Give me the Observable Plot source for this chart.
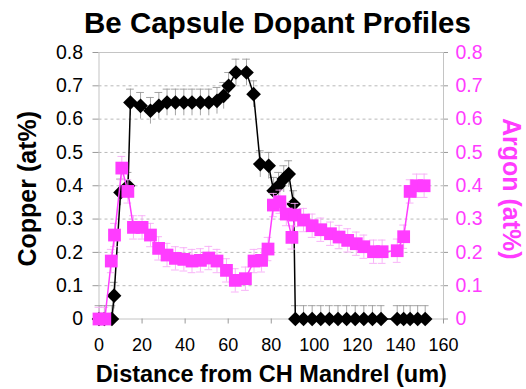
<!DOCTYPE html>
<html>
<head>
<meta charset="utf-8">
<script src="https://cdn.jsdelivr.net/npm/d3@7"></script>
<script src="https://cdn.jsdelivr.net/npm/@observablehq/plot@0.6"></script>
<style>
  body { margin: 0; background: #fff; font-family: Arial, "Liberation Sans", sans-serif; }
  #title {
    width: 526px; height: 40px; box-sizing: border-box; padding-left: 29px;
    text-align: center; font-weight: bold; font-size: 29.5px; line-height: 46px; color: #000;
    white-space: nowrap; overflow: visible;
  }
  #chart svg { display: block; }
</style>
</head>
<body>
<div id="title">Be Capsule Dopant Profiles</div>
<div id="chart"></div>
<script>
// Copper profile (left axis), at% vs distance from the CH mandrel (um)
const copperDistance = [0, 2.5, 6, 7, 10, 13.5, 14.6, 19.3, 23.9, 27.8, 31.6, 35.5, 39.4, 43.2, 47.1, 51, 54.8, 57.9, 60.2, 63.6, 68.5, 71.8, 74.9, 78.8, 81.1, 83.4, 85.8, 88.1, 90.4, 91.2, 95, 99, 103, 107, 111, 115, 119, 123, 127, 131, 138.5, 141.5, 144.5, 148, 151.5];
const copperPct = [0, 0, 0, 0.07, 0.38, 0.40, 0.65, 0.64, 0.625, 0.64, 0.65, 0.65, 0.65, 0.65, 0.65, 0.65, 0.655, 0.67, 0.70, 0.74, 0.74, 0.675, 0.465, 0.46, 0.385, 0.40, 0.42, 0.435, 0.345, 0, 0, 0, 0, 0, 0, 0, 0, 0, 0, 0, 0, 0, 0, 0, 0];

// Argon profile (right axis)
const argonDistance = [0, 2.7, 5.7, 7.2, 10.6, 13.4, 16, 20, 23.9, 27.7, 31.6, 35.5, 39.4, 43.2, 47.1, 51, 54.8, 59.2, 63.3, 68, 72, 75.5, 78.5, 81, 84, 87, 89.6, 91, 95, 99, 103, 107.5, 111.5, 115.5, 119.5, 123, 127.5, 131.5, 138.5, 141.5, 144.5, 147.5, 151];
const argonPct = [0, 0, 0.174, 0.252, 0.453, 0.383, 0.275, 0.275, 0.252, 0.212, 0.192, 0.182, 0.179, 0.174, 0.176, 0.183, 0.174, 0.146, 0.116, 0.121, 0.174, 0.176, 0.21, 0.342, 0.352, 0.315, 0.245, 0.312, 0.297, 0.28, 0.268, 0.256, 0.246, 0.236, 0.226, 0.217, 0.202, 0.202, 0.205, 0.247, 0.383, 0.40, 0.40];

// Error bar half-widths (at%)
const copperErr = 0.04;
const argonErr = 0.035;

const xTicks = [0, 20, 40, 60, 80, 100, 120, 140, 160];
const yTicks = [0, 0.1, 0.2, 0.3, 0.4, 0.5, 0.6, 0.7, 0.8];
const gridLevels = [0.1, 0.2, 0.3, 0.4, 0.5, 0.6, 0.7];

const copper = copperDistance.map((x, i) => ({x, y: copperPct[i]}));
const argon = argonDistance.map((x, i) => ({x, y: argonPct[i]}));

const magenta = "#ff3cff";
const fmt = d => d === 0 ? "0" : d.toFixed(1);
const capHalf = 1.8; // um, half the width of an error-bar cap

const chart = Plot.plot({
  width: 526,
  height: 349,
  marginTop: 12,
  marginBottom: 70.5,
  marginLeft: 98.5,
  marginRight: 83,
  style: {fontFamily: "Arial, 'Liberation Sans', sans-serif", background: "#fff", color: "#000"},
  x: {domain: [0, 160]},
  y: {domain: [0, 0.8]},
  marks: [
    Plot.ruleY(gridLevels, {stroke: "#b8b8b8", strokeDasharray: "3,3", strokeWidth: 1}),
    Plot.frame({stroke: "#c4c4c4"}),
    Plot.axisX({ticks: xTicks, tickFormat: d => String(d), tickSize: 5, tickPadding: 14, fontSize: 18, stroke: "#999", label: null}),
    Plot.axisY({anchor: "left", ticks: yTicks, tickFormat: fmt, tickSize: 6, tickPadding: 10, fontSize: 19.5, stroke: "#999", label: null}),
    Plot.axisY({anchor: "right", ticks: yTicks, tickFormat: fmt, tickSize: 4, tickPadding: 8, fontSize: 19.5, stroke: "#999", fill: magenta, label: null}),

    // Copper: error bars, line, diamonds
    Plot.ruleX(copper, {x: "x", y1: d => d.y - copperErr, y2: d => d.y + copperErr, stroke: "#9a9a9a", strokeWidth: 0.9, clip: true}),
    Plot.ruleY(copper, {y: d => d.y + copperErr, x1: d => d.x - capHalf, x2: d => d.x + capHalf, stroke: "#9a9a9a", strokeWidth: 0.9}),
    Plot.line(copper, {x: "x", y: "y", stroke: "#000", strokeWidth: 1.5}),
    Plot.dot(copper, {x: "x", y: "y", symbol: "diamond2", r: 6.6, fill: "#000", stroke: "none"}),

    // Argon: error bars, line, squares
    Plot.ruleX(argon, {x: "x", y1: d => d.y - argonErr, y2: d => d.y + argonErr, stroke: "#f7aaf7", strokeWidth: 0.9, clip: true}),
    Plot.ruleY(argon, {y: d => d.y + argonErr, x1: d => d.x - capHalf, x2: d => d.x + capHalf, stroke: "#f7aaf7", strokeWidth: 0.9}),
    Plot.ruleY(argon.filter(d => d.y - argonErr > 0), {y: d => d.y - argonErr, x1: d => d.x - capHalf, x2: d => d.x + capHalf, stroke: "#f7aaf7", strokeWidth: 0.9}),
    Plot.line(argon, {x: "x", y: "y", stroke: magenta, strokeWidth: 1.5}),
    Plot.dot(argon, {x: "x", y: "y", symbol: "square", r: 7.2, fill: magenta, stroke: "none"}),

    // Axis titles
    Plot.text(["Copper (at%)"], {frameAnchor: "left", textAnchor: "middle", lineAnchor: "middle", dx: -71, dy: 3, rotate: -90, fontSize: 25, fontWeight: "bold", fill: "#000"}),
    Plot.text(["Argon (at%)"], {frameAnchor: "right", textAnchor: "middle", lineAnchor: "middle", dx: 67, dy: 3, rotate: 90, fontSize: 25, fontWeight: "bold", fill: magenta}),
    Plot.text(["Distance from CH Mandrel (um)"], {frameAnchor: "bottom", textAnchor: "middle", lineAnchor: "middle", dy: 55, fontSize: 23.5, fontWeight: "bold", fill: "#000"})
  ]
});
document.getElementById("chart").appendChild(chart);
</script>
</body>
</html>
